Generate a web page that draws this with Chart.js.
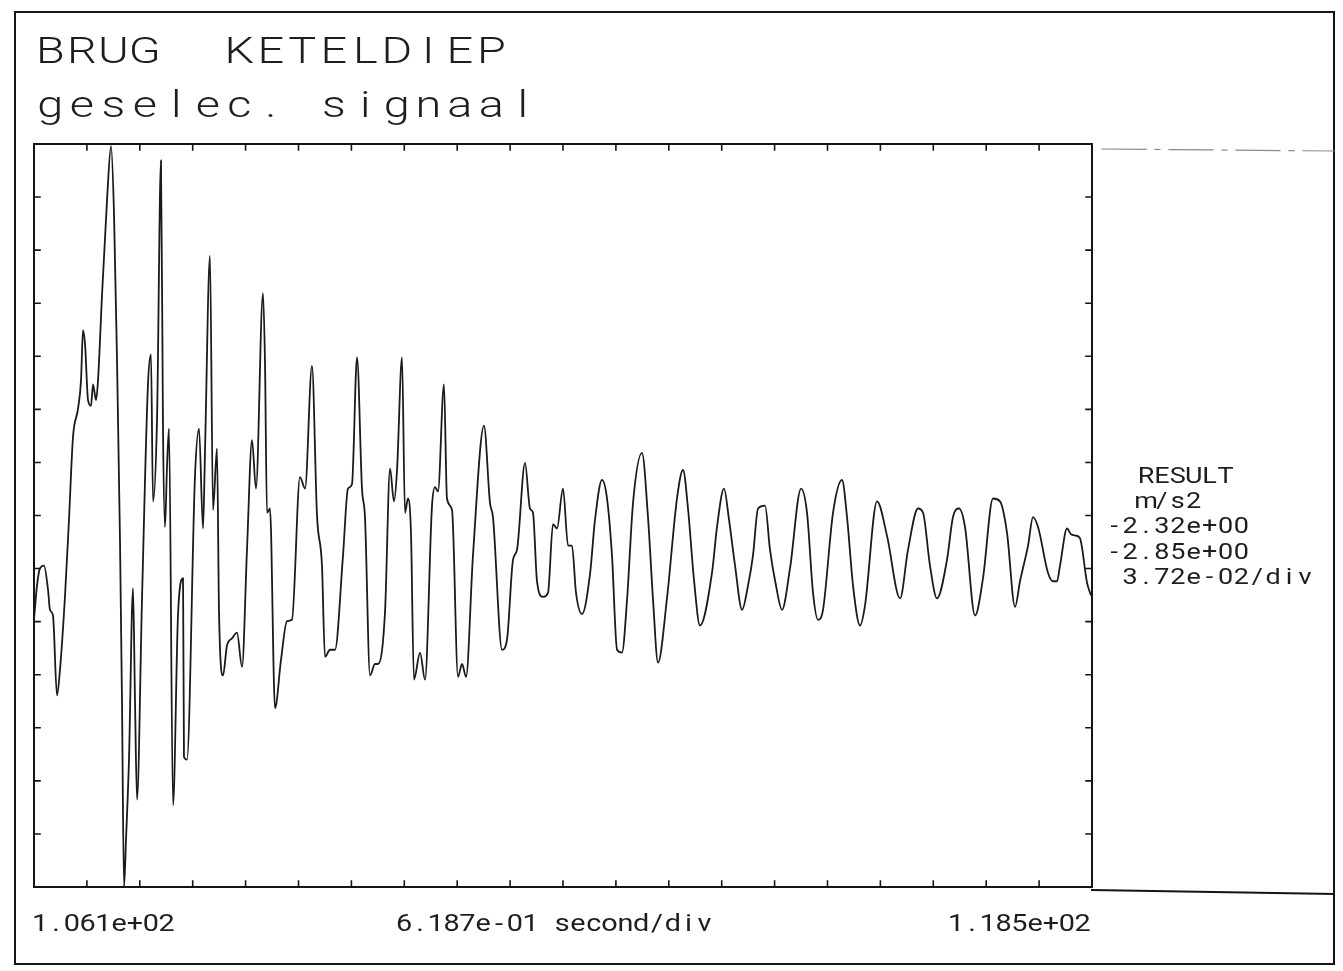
<!DOCTYPE html>
<html>
<head>
<meta charset="utf-8">
<script src="https://cdn.jsdelivr.net/npm/chart.js@4/dist/chart.umd.min.js"></script>
<style>
  body { margin: 0; background: #fff; }
  canvas { display: block; }
</style>
</head>
<body>
<canvas id="grafiek" width="1343" height="971"></canvas>
<script>
// meetpunten: tijd (s) en versnelling (m/s2)
var tijd = [106.100,106.135,106.170,106.217,106.264,106.287,106.322,106.369,106.404,106.463,
    106.509,106.556,106.615,106.650,106.673,106.697,106.732,106.767,106.790,106.825,
    106.849,106.895,106.954,107.001,107.036,107.071,107.106,107.129,107.153,107.176,
    107.211,107.258,107.281,107.305,107.363,107.433,107.468,107.492,107.539,107.585,
    107.609,107.632,107.656,107.679,107.726,107.784,107.843,107.854,107.889,107.983,
    108.030,108.077,108.100,108.158,108.194,108.240,108.264,108.311,108.357,108.416,
    108.474,108.533,108.591,108.650,108.696,108.778,108.802,108.825,108.860,108.919,
    108.989,109.059,109.117,109.211,109.270,109.351,109.410,109.468,109.503,109.562,
    109.620,109.714,109.772,109.819,109.878,109.936,109.971,110.030,110.088,110.123,
    110.205,110.264,110.310,110.346,110.404,110.439,110.474,110.509,110.544,110.615,
    110.673,110.755,110.790,110.825,110.895,110.930,110.989,111.059,111.106,111.153,
    111.234,111.363,111.433,111.468,111.574,111.632,111.702,111.749,111.843,111.901,
    111.936,111.983,112.053,112.112,112.170,112.217,112.287,112.346,112.392,112.439,
    112.509,112.603,112.661,112.743,112.802,112.860,112.919,112.977,113.036,113.106,
    113.211,113.281,113.340,113.398,113.503,113.620,113.691,113.749,113.819,113.889,
    114.030,114.088,114.170,114.229,114.299,114.381,114.451,114.509,114.568,114.650,
    114.708,114.778,114.848,114.942,115.071,115.141,115.211,115.269,115.328,115.445,
    115.550,115.609,115.679,115.761,115.819,115.960,116.076,116.229,116.322,116.439,
    116.498,116.579,116.661,116.778,116.848,116.919,116.989,117.106,117.199,117.316,
    117.398,117.480,117.574,117.632,117.726,117.784,117.843,117.959,118.018,118.065,
    118.100,118.182,118.228,118.287,118.334,118.416,118.462];

var versnelling = [-2.658,-2.634,-2.622,-2.620,-2.637,-2.651,-2.655,-2.711,-2.693,-2.641,
    -2.588,-2.530,-2.510,-2.490,-2.455,-2.465,-2.504,-2.508,-2.493,-2.504,
    -2.490,-2.431,-2.364,-2.326,-2.374,-2.476,-2.603,-2.714,-2.845,-2.812,
    -2.756,-2.636,-2.714,-2.784,-2.644,-2.493,-2.472,-2.575,-2.517,-2.336,
    -2.526,-2.593,-2.550,-2.524,-2.788,-2.655,-2.629,-2.754,-2.756,-2.557,
    -2.524,-2.594,-2.540,-2.403,-2.581,-2.538,-2.653,-2.697,-2.676,-2.671,
    -2.667,-2.691,-2.609,-2.532,-2.566,-2.429,-2.479,-2.583,-2.580,-2.720,
    -2.686,-2.659,-2.658,-2.558,-2.566,-2.480,-2.585,-2.620,-2.684,-2.679,
    -2.679,-2.613,-2.566,-2.563,-2.474,-2.566,-2.586,-2.697,-2.689,-2.689,
    -2.653,-2.552,-2.575,-2.553,-2.474,-2.583,-2.573,-2.597,-2.700,-2.681,
    -2.700,-2.578,-2.565,-2.568,-2.493,-2.573,-2.581,-2.698,-2.689,-2.698,
    -2.613,-2.522,-2.576,-2.586,-2.679,-2.672,-2.616,-2.609,-2.548,-2.580,
    -2.583,-2.631,-2.642,-2.639,-2.591,-2.594,-2.566,-2.606,-2.606,-2.639,
    -2.654,-2.626,-2.588,-2.560,-2.573,-2.613,-2.679,-2.681,-2.644,-2.576,
    -2.541,-2.586,-2.644,-2.688,-2.643,-2.573,-2.553,-2.580,-2.630,-2.662,
    -2.625,-2.593,-2.566,-2.588,-2.620,-2.651,-2.634,-2.613,-2.580,-2.578,
    -2.609,-2.634,-2.651,-2.622,-2.566,-2.583,-2.639,-2.658,-2.651,-2.583,
    -2.560,-2.586,-2.634,-2.662,-2.648,-2.575,-2.599,-2.643,-2.609,-2.580,
    -2.583,-2.620,-2.643,-2.616,-2.586,-2.580,-2.593,-2.655,-2.629,-2.573,
    -2.575,-2.597,-2.649,-2.631,-2.606,-2.586,-2.593,-2.625,-2.631,-2.631,
    -2.620,-2.594,-2.598,-2.599,-2.601,-2.632,-2.641];

// schaal: 20 x 14 hokken
var tijdBegin = 106.1;
var tijdPerDiv = 0.6187;
var aantalDivX = 20;
var versnTop = -2.3245;
var versnPerDiv = 0.0372;
var aantalDivY = 14;

var titelRegels = ['BRUG  KETELDIEP', 'geselec. signaal'];
var resultaatRegels = ['  RESULT', '  m/s2', '-2.32e+00', '-2.85e+00', ' 3.72e-02/div'];
var asLabels = ['1.061e+02', '6.187e-01 second/div', '1.185e+02'];

var punten = [];
for (var i = 0; i < tijd.length; i++) {
    punten.push({ x: tijd[i], y: versnelling[i] });
}

// tekst letter voor letter op vaste afstand, zoals de plotter schrijft
function plotterTekst(ctx, tekst, x, basis, grootte, stap, rek, gewicht) {
    ctx.save();
    ctx.font = gewicht + ' ' + grootte + 'px Roboto';
    ctx.fillStyle = '#1e1e1e';
    ctx.textAlign = 'center';
    ctx.textBaseline = 'alphabetic';
    for (var i = 0; i < tekst.length; i++) {
        if (tekst[i] == ' ') continue;
        ctx.save();
        ctx.translate(x + i * stap + stap * 0.39, basis);
        ctx.scale(rek, 1);
        ctx.fillText(tekst[i], 0, 0);
        ctx.restore();
    }
    ctx.restore();
}

const plotterKader = {
    id: 'plotterKader',
    beforeDraw(chart) {
        const ctx = chart.ctx;
        ctx.save();
        ctx.fillStyle = '#fff';
        ctx.fillRect(0, 0, chart.width, chart.height);
        ctx.restore();
    },
    afterDraw(chart) {
        const ctx = chart.ctx;
        const a = chart.chartArea;
        const sx = chart.scales.x;
        const sy = chart.scales.y;

        ctx.save();
        ctx.strokeStyle = '#151515';
        ctx.lineWidth = 2;
        ctx.lineCap = 'square';

        // buitenkader van het blad
        ctx.strokeRect(15, 12, 1319, 952);

        // kader van de grafiek
        ctx.strokeRect(a.left, a.top, a.right - a.left, a.bottom - a.top);

        // lijn onder het resultaatvak
        ctx.beginPath();
        ctx.moveTo(a.right, a.bottom + 3);
        ctx.lineTo(1334, a.bottom + 7);
        ctx.stroke();

        // streepjes naar binnen
        ctx.lineWidth = 1.6;
        ctx.beginPath();
        for (var i = 1; i < aantalDivX; i++) {
            var px = sx.getPixelForValue(tijdBegin + i * tijdPerDiv);
            ctx.moveTo(px, a.top);
            ctx.lineTo(px, a.top + 6);
            ctx.moveTo(px, a.bottom);
            ctx.lineTo(px, a.bottom - 6);
        }
        for (var j = 1; j < aantalDivY; j++) {
            var py = sy.getPixelForValue(versnTop - j * versnPerDiv);
            ctx.moveTo(a.left, py);
            ctx.lineTo(a.left + 6, py);
            ctx.moveTo(a.right, py);
            ctx.lineTo(a.right - 6, py);
        }
        ctx.stroke();

        // onderbroken lijn boven het resultaatvak
        ctx.strokeStyle = '#8a8a8a';
        ctx.lineWidth = 1.2;
        ctx.setLineDash([44, 9, 5, 9]);
        ctx.beginPath();
        ctx.moveTo(a.right + 10, a.top + 5);
        ctx.lineTo(1334, a.top + 7);
        ctx.stroke();
        ctx.restore();

        // titels
        plotterTekst(ctx, titelRegels[0], 38, 63, 36, 31.5, 1.3, 300);
        plotterTekst(ctx, titelRegels[1], 38, 117, 36, 31.5, 1.3, 300);

        // resultaatblok rechts
        for (var r = 0; r < resultaatRegels.length; r++) {
            plotterTekst(ctx, resultaatRegels[r], 1108, 483 + r * 25.2, 22.5, 15.9, 1.2, 400);
        }

        // tijdas
        plotterTekst(ctx, asLabels[0], 34, 931, 24, 15.8, 1.2, 400);
        plotterTekst(ctx, asLabels[1], 398, 931, 24, 15.8, 1.2, 400);
        plotterTekst(ctx, asLabels[2], 950, 931, 24, 15.8, 1.2, 400);
    }
};

const ctx = document.getElementById('grafiek').getContext('2d');
const grafiek = new Chart(ctx, {
    type: 'line',
    data: {
        datasets: [{
            label: 'RESULT',
            data: punten,
            borderColor: '#1a1a1a',
            borderWidth: 1.8,
            pointRadius: 0,
            fill: false,
            cubicInterpolationMode: 'monotone'
        }]
    },
    options: {
        responsive: false,
        animation: false,
        devicePixelRatio: 1,
        layout: {
            padding: { left: 34, top: 144, right: 251, bottom: 84 }
        },
        scales: {
            x: {
                type: 'linear',
                min: tijdBegin,
                max: tijdBegin + aantalDivX * tijdPerDiv,
                display: false
            },
            y: {
                min: versnTop - aantalDivY * versnPerDiv,
                max: versnTop,
                display: false
            }
        },
        plugins: {
            legend: { display: false },
            tooltip: { enabled: false }
        }
    },
    plugins: [plotterKader]
});
</script>
</body>
</html>
